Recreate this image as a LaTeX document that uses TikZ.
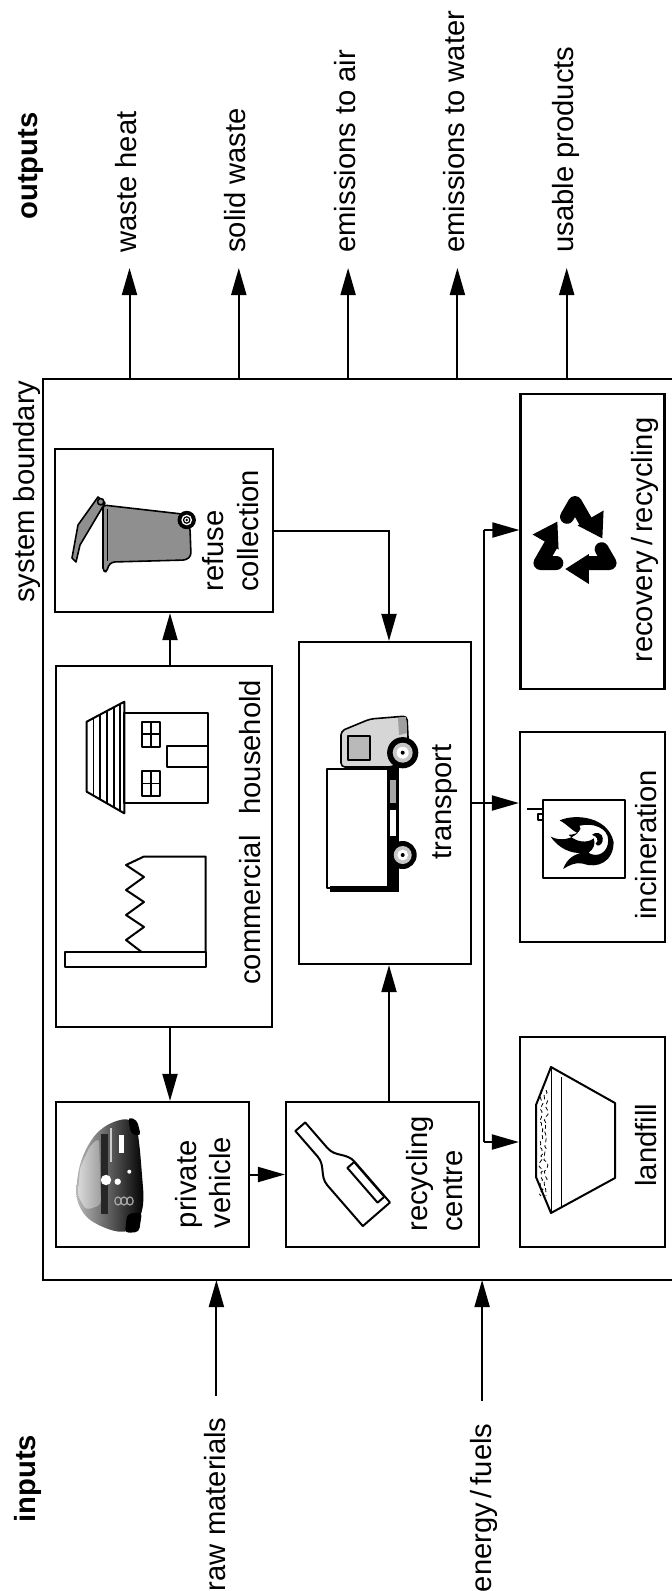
\documentclass[tikz,border=0pt]{standalone}
\usepackage{fontspec}
\setmainfont{Liberation Sans}
\usetikzlibrary{arrows.meta}
\usetikzlibrary{positioning}
\usetikzlibrary{calc}
\usetikzlibrary{decorations.pathmorphing}
\definecolor{bingray}{rgb}{0.56, 0.56, 0.56}
\definecolor{cabgray}{rgb}{0.84, 0.84, 0.84}
\tikzset{
  box/.style={draw,line width=1.1pt,inner sep=0pt},
  arr/.style={line width=1pt,-{Triangle[length=13.5pt,width=7.5pt]}},
  wire/.style={line width=1pt},
  lbl/.style={font=\fontsize{14.6pt}{17.25pt}\selectfont,inner sep=0pt,rotate=90},
  head/.style={lbl,font=\fontsize{14.6pt}{17.25pt}\selectfont\bfseries},
  icon/.style={line width=0.8pt,line join=round},
}
\begin{document}
\begin{tikzpicture}[line cap=butt,line join=miter,x=0.5pt,y=-0.5pt]
\useasboundingbox (0,0) rectangle (672,1591);
% system boundary
\coordinate (sbtl) at (43,379);
\coordinate (sbbl) at (43,1280);
\draw[line width=1.1pt] (672,379) -- (sbtl) -- (sbbl) -- (672,1280);
\node[lbl,anchor=base east] (sysb) at (34.5,380) {system boundary};
\node[head,anchor=base west] (outputs) at (37,220) {outputs};
\node[head,anchor=base west] (inputs) at (35,1523) {inputs};
% boxes
\node[box,minimum width=108pt,minimum height=180.5pt] (sources) at (164,846.5) {};
\node[box,minimum width=109pt,minimum height=81.5pt] (refuse) at (164,530.5) {};
\node[box,minimum width=96.5pt,minimum height=72.5pt] (vehicle) at (152.5,1174.5) {};
\node[box,minimum width=96.5pt,minimum height=72.5pt] (centre) at (382.5,1174.5) {};
\node[box,minimum width=86pt,minimum height=161pt] (transport) at (385,803) {};
\node[box,minimum width=72pt,minimum height=147.5pt] (recovery) at (592.5,541.5) {};
\node[box,minimum width=72.5pt,minimum height=105pt] (incineration) at (592.5,837) {};
\node[box,minimum width=72.5pt,minimum height=105pt] (landfill) at (592.5,1142) {};
% box texts
\node[lbl,align=left,anchor=south west] (vehtext) at (231.5,1228.5) {private\\vehicle};
\node[lbl,align=left,anchor=south west] (centext) at (463,1232) {recycling\\centre};
\node[lbl,align=left,anchor=south west] (reftext) at (259,592) {refuse\\collection};
\node[lbl,anchor=base west] (comtext) at (260,985) {commercial};
\node[lbl,anchor=base west] (houtext) at (260,815) {household};
\node[lbl,anchor=base west] (tratext) at (451,860) {transport};
\node[lbl,anchor=base west] (rectext) at (652,663) {recovery\,/\,recycling};
\node[lbl,anchor=base west] (inctext) at (656,920) {incineration};
\node[lbl,anchor=base west] (lantext) at (656,1187) {landfill};
% connectors
\draw[arr] ([xshift=3pt]sources.north) -- ([xshift=3pt]sources.north |- refuse.south);
\draw[arr] ([xshift=3pt]sources.south) -- ([xshift=3pt]sources.south |- vehicle.north);
\draw[arr] (vehicle.east) -- (centre.west);
\draw[arr] ([xshift=2pt]transport.south |- centre.north) -- ([xshift=2pt]transport.south);
\draw[arr] (refuse.east) -| ([xshift=2pt]transport.north);
\coordinate (bus) at (484,803);
\coordinate (recin) at ([yshift=5.75pt]recovery.west);
\draw[arr] (transport.east) -- (transport.east -| incineration.west);
\draw[wire] (bus |- recin) -- (bus |- landfill.west);
\draw[arr] (bus |- recin) -- (recin);
\draw[arr] (bus |- landfill.west) -- (landfill.west);
% outputs
\foreach \x/\txt [count=\i] in {129.5/waste heat,238.8/solid waste,348.1/emissions to air,457.4/emissions to water,566.7/usable products}{
  \coordinate (out\i) at (\x,379);
  \coordinate (tip\i) at (\x,268);
  \draw[arr] (out\i) -- (tip\i);
  \node[lbl,anchor=base west] (olab\i) at ([xshift=3.5pt,yshift=7.5pt]tip\i) {\txt};
}
% inputs
\coordinate (in1) at (216.4,1280);
\coordinate (tail1) at (216.4,1396);
\coordinate (in2) at (482.1,1280);
\coordinate (tail2) at (482.1,1401);
\draw[arr] (tail1) -- (in1);
\draw[arr] (tail2) -- (in2);
\node[lbl,anchor=base east] (ilab1) at ([xshift=4.5pt,yshift=-10.5pt]tail1) {raw materials};
\node[lbl,anchor=base east] (ilab2) at ([xshift=4.5pt,yshift=-11pt]tail2) {energy\,/\,fuels};
% household icon
\draw[icon,line width=1pt] (86.7,721.7) -- (124.3,701.7) -- (124.3,813.3) -- (86.7,791.7) -- cycle;
\foreach \x in {93.3,100,106.7,114,120}
  \draw[icon] (\x,{721.7-(\x-86.7)*0.532}) -- (\x,{791.7+(\x-86.7)*0.574});
\draw[icon,line width=1pt] (124.3,712.7) rectangle (207.7,802.7);
\draw[icon,line width=1pt] (166.7,746) rectangle (207.7,766.7);
\foreach \y in {721.7,771}{
  \draw[icon] (141.7,\y) rectangle (160,\y+25);
  \draw[icon] (150.8,\y) -- (150.8,\y+25);
  \draw[icon] (141.7,\y+12.5) -- (160,\y+12.5);
}
% commercial icon
\draw[icon,line width=1pt] (65,952.3) rectangle (205.7,966.7);
\draw[icon,line width=1pt] (142,952.3) -- (126,940) -- (144,927) -- (126,915) -- (144,902) -- (126,890) -- (144,877) -- (126,865) -- (144,856.5) -- (205.7,856.5) -- (205.7,952.3);
% refuse bin
\draw[icon,fill=bingray] (98,497) -- (105,503) -- (80,545) -- (76,562) -- (72,558) -- (78,525) -- cycle;
\draw[icon,fill=bingray,rounded corners=1.5pt] (103,505) -- (182,514) -- (190,528) -- (191,556) -- (186,560) -- (112,562) -- (108,566) -- (107,572) -- (103,571) -- cycle;
\draw[icon] (107.5,509) -- (107.5,561);
\draw[icon,fill=bingray] (100.7,501.7) circle (1.6pt);
\fill (186.7,520) circle (4.6pt);
\fill[white] (186.7,520) circle (2.7pt);
\draw[line width=0.6pt] (186.7,520) circle (1.6pt);
\fill (186.7,520) circle (0.7pt);
% truck
\draw[icon,fill=white] (327,769) rectangle (388,888);
\fill (330,886) rectangle (389,892);
\fill (387,758) rectangle (399,892);
\fill[gray!70] (390,780) rectangle (396,803);
\fill[white] (390,810) rectangle (396,836);
\draw[icon,fill=cabgray,rounded corners=2pt] (341,767) -- (341,731) -- (370,719) -- (407,716) -- (409,758) -- (392,767) -- cycle;
\draw[icon,fill=gray!55] (348,736) rectangle (370,760);
\fill[gray!75] (398,718) -- (406,717) -- (407,733) -- (399,735) -- cycle;
\coordinate (fw) at (402.7,752.7);
\coordinate (rw) at (402.7,855);
\fill (fw) circle (7.8pt);
\fill[gray!45] (fw) circle (5pt);
\fill[white] (fw) circle (3pt);
\fill (fw) circle (1pt);
\fill (rw) circle (7pt);
\fill[gray!45] (rw) circle (4.5pt);
\fill[white] (rw) circle (2.7pt);
\fill (rw) circle (1pt);
% car
\shade[left color=gray!55,right color=black,rounded corners=4pt] (99,1130) -- (114,1121) -- (131,1118) -- (137,1126) -- (140,1150) -- (144,1200) -- (141,1216) -- (135,1229) -- (122,1233) -- (104,1228) -- (86,1218) -- (76,1200) -- (77,1178) -- (81,1160) -- (89,1143) -- cycle;
\fill[rounded corners=2pt] (128,1117) -- (137,1120) -- (141,1136) -- (131,1134) -- cycle;
\fill[rounded corners=2pt] (127,1214) -- (142,1212) -- (139,1232) -- (125,1233) -- cycle;
\shade[left color=gray!30,right color=gray!75,rounded corners=2pt] (80,1168) -- (90,1146) -- (99,1138) -- (101,1205) -- (86,1210) -- (78,1196) -- cycle;
\fill[black!85] (101,1134) rectangle (108,1214);
\fill[white] (119,1135) rectangle (124,1153);
\fill[gray!40] (110,1128) rectangle (112,1162);
\fill[white] (106,1180) circle (2.6pt);
\fill[white] (117.7,1181.7) circle (1.6pt);
\fill[white] (129.3,1171.7) circle (1pt);
\foreach \x in {118,124,130}
  \draw[gray!70,line width=0.6pt] (\x,1201) ellipse (1.6pt and 2pt);
% recycling centre bottle
\begin{scope}[shift={(300.3,1126.7)},rotate=-49]
\draw[icon,line width=1pt] (0,-6.5) -- (34,-6.5) .. controls (46,-6.5) and (50,-18) .. (62,-18) -- (116,-18) -- (116,18) -- (62,18) .. controls (50,18) and (46,6.5) .. (34,6.5) -- (0,6.5) -- cycle;
\draw[icon,line width=1pt] (62,-17.5) rectangle (108,-8.5);
\end{scope}
% recovery symbol
\begin{scope}[shift={(575,543)}]
\coordinate (r0) at (0,-40);
\coordinate (r1) at (34.6,20);
\coordinate (r2) at (-34.6,20);
\end{scope}
\foreach \a/\b/\c in {r2/r0/r1,r0/r1/r2,r1/r2/r0}{
  \coordinate (rb) at ($(\b)!0.30!(\c)$);
  \coordinate (rt) at ($(\b)!0.64!(\c)$);
  \draw[line width=7pt,line join=round,line cap=round] ($(\a)!0.77!(\b)$) -- (\b) -- (rb);
  \fill ($(rb)!10.5pt!90:(\c)$) -- ($(rb)!4.5pt!-90:(\c)$) -- ($(rt)!3pt!90:(\c)$) -- cycle;
}
% incineration icon
\draw[icon,line width=1pt] (543,800) rectangle (625,878);
\draw[icon] (527,809) -- (543,809);
\draw[icon] (538,814) rectangle (543,820);
\begin{scope}[shift={(583,842)},rotate=90,scale=0.9]
\fill[even odd rule] (0,34) .. controls (-22,34) and (-30,16) .. (-24,0)
  .. controls (-22,-8) and (-26,-16) .. (-30,-22)
  .. controls (-18,-18) and (-12,-8) .. (-12,2)
  .. controls (-14,-14) and (-6,-28) .. (6,-36)
  .. controls (0,-24) and (4,-12) .. (10,-6)
  .. controls (14,-14) and (20,-18) .. (24,-26)
  .. controls (32,-8) and (28,28) .. (0,34) -- cycle
  (2,28) .. controls (-12,28) and (-18,16) .. (-12,6)
  .. controls (-8,12) and (-2,14) .. (4,12)
  .. controls (-2,4) and (0,-8) .. (8,-16)
  .. controls (8,-6) and (14,0) .. (18,-4)
  .. controls (22,10) and (16,28) .. (2,28) -- cycle
  (4,22) .. controls (-4,22) and (-6,16) .. (-2,14)
  .. controls (2,18) and (6,16) .. (8,10)
  .. controls (12,14) and (10,22) .. (4,22) -- cycle;
\end{scope}
% landfill icon
\draw[icon,line width=1pt] (536,1105) -- (551,1067) -- (615,1103) -- (615,1178) -- (551,1213) -- (536,1177) -- cycle;
\draw[icon,line width=0.5pt] (551,1067) -- (551,1213);
\draw[icon,line width=0.6pt] (561.7,1077) -- (561.7,1207);
\pgfmathsetseed{7}
\foreach \x in {541,546}
  \draw[line width=0.4pt,dash pattern=on 2pt off 1.5pt,decorate,decoration={random steps,segment length=1.5pt,amplitude=1pt}] (\x,1090) -- (\x,1196);
\end{tikzpicture}
\end{document}
